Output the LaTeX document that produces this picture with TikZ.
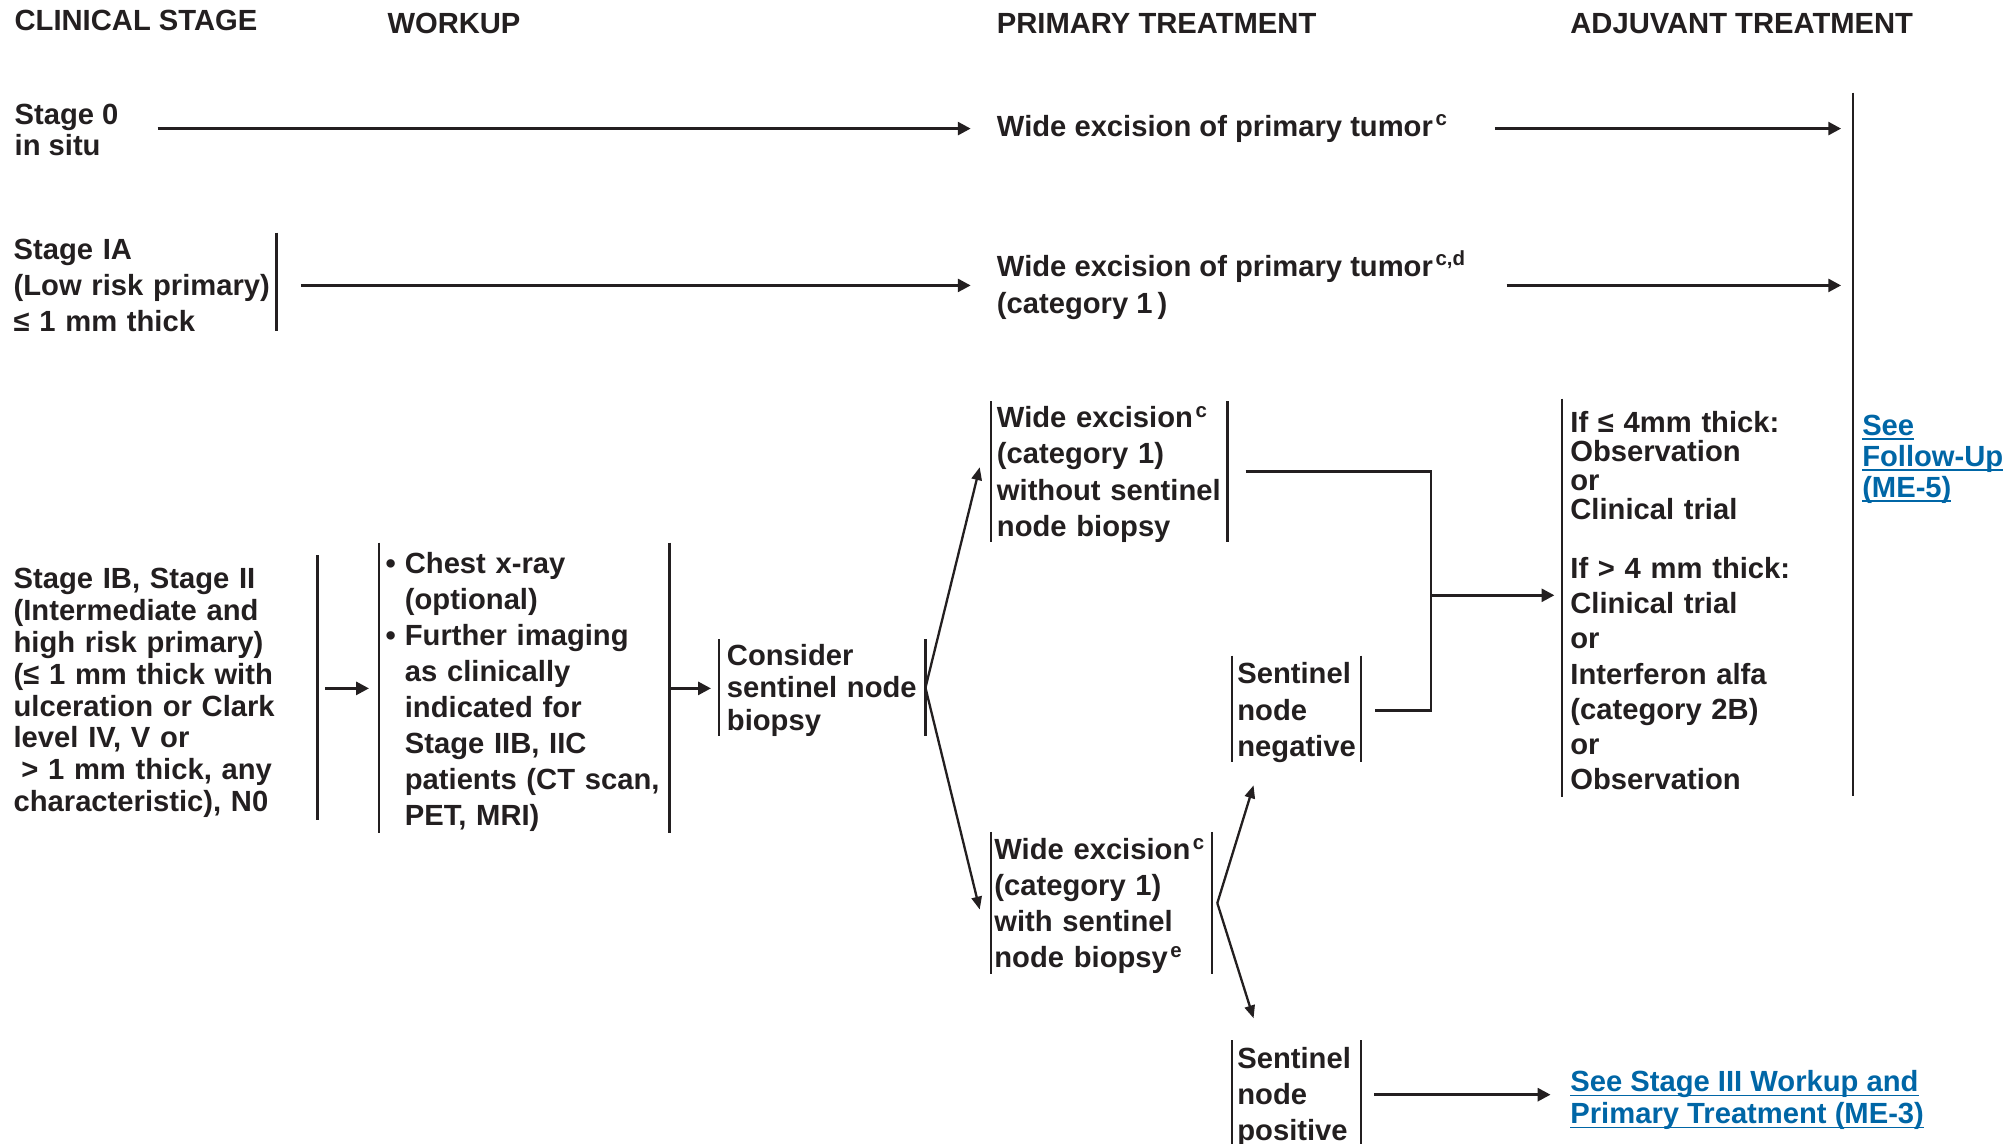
\documentclass[tikz,border=0pt]{standalone}
\usepackage{fontspec}
\setmainfont{Liberation Sans}[UprightFont=* Bold, BoldFont=* Bold]
\usetikzlibrary{arrows.meta,calc}
\definecolor{ink}{RGB}{35,31,32}
\definecolor{linkblue}{RGB}{0,102,166}
% underlined link text
\newcommand{\ulink}[1]{\setbox0=\hbox{#1}\rlap{\rule[-1.9pt]{\wd0}{0.7pt}}\box0}
% footnote marks
\newcommand{\sups}[1]{\kern1pt\textsuperscript{#1}}
\begin{document}
\hyphenpenalty=10000 \exhyphenpenalty=10000
\begin{tikzpicture}[x=0.5pt,y=-0.5pt,color=ink,
  fs/.style={font=\fontsize{11.35pt}{#1}\selectfont},
  plain/.style={inner sep=0pt, align=left, anchor=west, fs=12.5pt},
  hdr/.style={inner sep=0pt, anchor=base west, fs=13pt},
  box/.style={inner ysep=0pt, align=left, anchor=north west},
  barline/.style={line width=0.9pt},
  % side bars of a box; the argument lifts them back when the text is lowered
  lbar/.style={append after command={([yshift=#1]\tikzlastnode.north west) edge[barline] ([yshift=#1]\tikzlastnode.south west)}},
  lbar/.default=0pt,
  rbar/.style={append after command={([yshift=#1]\tikzlastnode.north east) edge[barline] ([yshift=#1]\tikzlastnode.south east)}},
  rbar/.default=0pt,
  bars/.style={lbar=#1,rbar=#1},
  bars/.default=0pt,
  arr/.style={line width=1.15pt,-{Triangle[length=5pt,width=5pt]}},
  darr/.style={line width=0.9pt,-{Triangle[length=5pt,width=4pt]}},
  conn/.style={line width=1.1pt}]
\useasboundingbox (0,0) rectangle (1568,889);

% column headers
\node[hdr] (hcs) at (11,24) {CLINICAL STAGE};
\node[hdr] (hwu) at (301,26) {WORKUP};
\node[hdr] (hpt) at (775,26) {PRIMARY TREATMENT};
\node[hdr] (hat) at (1221,26) {ADJUVANT TREATMENT};

% clinical stages
\node[plain, fs=12.25pt] (s0) at (11,101) {Stage 0\\in situ};
\node[box, anchor=north east, rbar=1.5pt, yshift=-1.5pt, fs=14pt, text width=101pt, inner xsep=1pt, minimum height=38pt] (s1a) at (215,181)
  {Stage IA\\(Low risk primary)\\≤ 1 mm thick};
\node[box, anchor=north east, rbar=2pt, yshift=-2pt, fs=12.43pt, text width=115pt, inner xsep=3pt, minimum height=102.5pt] (s1b) at (247,432)
  {Stage IB, Stage II\\(Intermediate and\\high risk primary)\\(≤ 1 mm thick with\\ulceration or Clark\\level IV, V or\\\hspace*{3pt}> 1 mm thick, any\\characteristic), N0};

% workup
\node[box, bars=1.5pt, yshift=-1.5pt, fs=14pt, text width=108pt, inner xsep=2.25pt, minimum height=112.5pt] (wu) at (295,422)
  {\makebox[7.5pt][l]{•}Chest x-ray\\\hspace*{7.5pt}(optional)\\\makebox[7.5pt][l]{•}Further imaging\\\hspace*{7.5pt}as clinically\\\hspace*{7.5pt}indicated for\\\hspace*{7.5pt}Stage IIB, IIC\\\hspace*{7.5pt}patients (CT scan,\\\hspace*{7.5pt}PET, MRI)};
\node[box, bars=1pt, yshift=-1pt, fs=12.5pt, text width=74pt, inner xsep=3pt, minimum height=37.5pt] (csn) at (559,497)
  {Consider\\sentinel node\\biopsy};

% primary treatment
\node[plain] (w0) at (775,100) {Wide excision of primary tumor\sups{c}};
\node[plain, fs=14.5pt] (w1) at (775,222) {Wide excision of primary tumor\sups{c,d}\\(category 1\,)};
\node[box, bars=1pt, yshift=-1pt, fs=14.15pt, text width=87.5pt, inner xsep=2pt, minimum height=54.5pt] (wa) at (771,312)
  {Wide excision\sups{c}\\(category 1)\\without sentinel\\node biopsy};
\node[box, bars=1pt, yshift=-1pt, fs=14pt, text width=83.5pt, inner xsep=1pt, minimum height=55pt] (wb) at (771,647)
  {Wide excision\sups{c}\\(category 1)\\with sentinel\\node biopsy\sups{e}};
\node[box, bars=1.5pt, yshift=-1.5pt, fs=14.25pt, text width=46pt, inner xsep=2pt, minimum height=41pt] (sneg) at (958,510)
  {Sentinel\\node\\negative};
\node[box, bars=1pt, yshift=-1pt, fs=14pt, text width=46pt, inner xsep=2pt, minimum height=42pt] (spos) at (958,809)
  {Sentinel\\node\\positive};

% adjuvant treatment
\node[box, lbar=1pt, yshift=-1pt, text width=110pt, inner xsep=3pt, minimum height=154.5pt, fs=13.65pt] (adj) at (1215,310)
  {{\fontsize{11.35pt}{11.35pt}\selectfont If ≤ 4mm thick:\\Observation\\or\\Clinical trial\par}\vspace{9.3pt}
   If > 4 mm thick:\\Clinical trial\\or\\Interferon alfa\\(category 2B)\\or\\Observation\par};

% references to other pages
\node[plain, fs=12pt, text=linkblue] (fu) at (1448,357) {\ulink{See}\\\ulink{Follow-Up}\\\ulink{(ME-5)}};
\node[plain, fs=12.5pt, text=linkblue] (s3) at (1221,855.5) {\ulink{See Stage III Workup and}\\\ulink{Primary Treatment (ME-3)}};

% follow-up bracket
\coordinate (fuTop) at (1441,72);
\coordinate (fuBot) at (1441,619);
\coordinate (join) at (1113,463);
\draw[barline] (fuTop) -- (fuBot);

% connectors
\draw[arr] ($(w0.west -| s0.east)+(15pt,0)$) -- ($(w0.west)+(-10pt,0)$);
\draw[arr] ($(w0.east)+(18pt,0)$) -- ($(w0.east -| fuTop)+(-4.5pt,0)$);
\draw[arr] ($(w1.west -| s1a.east)+(9.5pt,0)$) -- ($(w1.west)+(-10pt,0)$);
\draw[arr] ($(w1.east)+(15.5pt,0)$) -- ($(w1.east -| fuTop)+(-4.5pt,0)$);
\draw[arr] ([xshift=3pt,yshift=1.75pt]s1b.east) -- ([xshift=-4pt,yshift=1.25pt]wu.west);
\draw[arr] ([yshift=1.25pt]wu.east) -- ([xshift=-3pt,yshift=0.75pt]csn.west);
\draw[darr] ([yshift=1pt]csn.east) -- ([xshift=-4.5pt,yshift=2.75pt]wa.west);
\draw[darr] ([yshift=1pt]csn.east) -- ([xshift=-4.5pt,yshift=-1.5pt]wb.west);
\draw[conn] ([xshift=7pt,yshift=1pt]wa.east) -| (join);
\draw[conn] ([xshift=5.5pt,yshift=1pt]sneg.east) -| (join);
\draw[arr] (join) -- ($(join -| adj.west)+(-3pt,0)$);
\draw[darr] ([xshift=2pt,yshift=1pt]wb.east) -- ([xshift=8.5pt,yshift=-7.5pt]sneg.south west);
\draw[darr] ([xshift=2pt,yshift=1pt]wb.east) -- ([xshift=8.5pt,yshift=9.5pt]spos.north west);
\draw[arr] ([xshift=5pt,yshift=1pt]spos.east) -- ($(spos.east -| s3.west)+(-7.5pt,1pt)$);
\end{tikzpicture}
\end{document}
